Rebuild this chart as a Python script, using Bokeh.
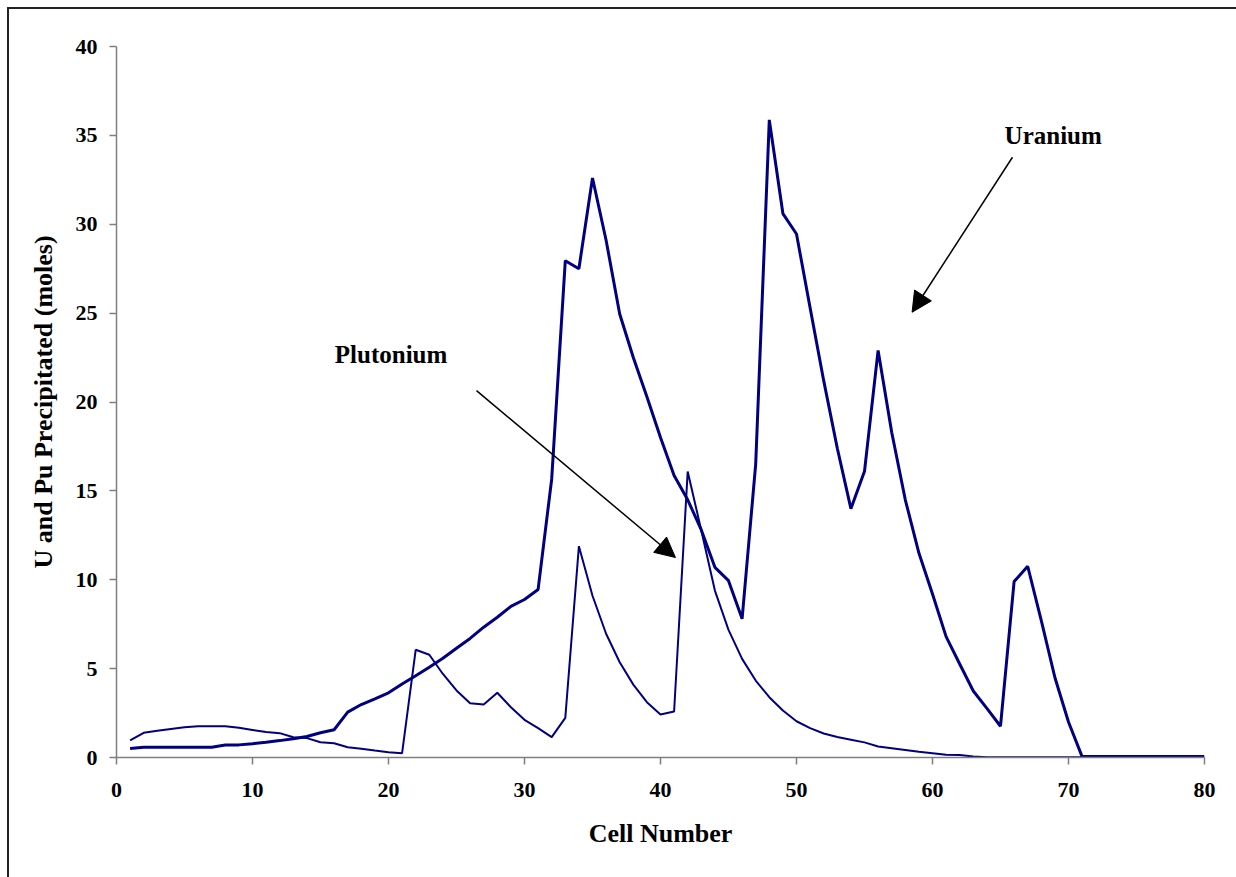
from bokeh.plotting import figure
from bokeh.models import Range1d, FixedTicker, Label, Arrow, NormalHead
from bokeh.embed import file_html
from bokeh.resources import INLINE

cells = list(range(1, 81))

uranium = [0.50, 0.58, 0.58, 0.58, 0.58, 0.58, 0.58, 0.70, 0.71, 0.78,
           0.86, 0.95, 1.05, 1.18, 1.39, 1.56, 2.55, 2.98, 3.30, 3.64,
           4.14, 4.60, 5.08, 5.58, 6.15, 6.70, 7.33, 7.89, 8.50, 8.89,
           9.45, 15.67, 27.95, 27.50, 32.6, 29.1, 24.95, 22.5, 20.3, 18.0,
           15.86, 14.5, 12.8, 10.7, 9.95, 7.8, 16.5, 35.87, 30.6, 29.45,
           25.3, 21.2, 17.4, 14.0, 16.1, 22.9, 18.3, 14.5, 11.5, 9.2,
           6.8, 5.26, 3.74, 2.76, 1.76, 9.9, 10.76, 7.7, 4.5, 2.0,
           0.05, 0.05, 0.05, 0.05, 0.05, 0.05, 0.05, 0.05, 0.05, 0.05]

plutonium = [0.96, 1.39, 1.50, 1.60, 1.70, 1.76, 1.76, 1.76, 1.67, 1.55,
             1.43, 1.37, 1.14, 1.09, 0.86, 0.80, 0.58, 0.49, 0.39, 0.30,
             0.24, 6.06, 5.78, 4.70, 3.77, 3.05, 2.98, 3.64, 2.83, 2.12,
             1.65, 1.15, 2.23, 11.89, 9.1, 6.96, 5.36, 4.1, 3.11, 2.42,
             2.59, 16.09, 12.77, 9.39, 7.18, 5.55, 4.33, 3.39, 2.64, 2.04,
             1.65, 1.35, 1.15, 1.0, 0.85, 0.62, 0.52, 0.42, 0.32, 0.24,
             0.15, 0.14, 0.05, 0.02, 0.02, 0.02, 0.02, 0.02, 0.02, 0.02,
             0.02, 0.02, 0.02, 0.02, 0.02, 0.02, 0.02, 0.02, 0.02, 0.02]

x_ticks = [0, 10, 20, 30, 40, 50, 60, 70, 80]
y_ticks = [0, 5, 10, 15, 20, 25, 30, 35, 40]

x_title = "Cell Number"
y_title = "U and Pu Precipitated (moles)"

# annotation texts and arrow endpoints (data coordinates)
pu_label = ("Plutonium", 16.05, 22.65)
u_label = ("Uranium", 65.3, 34.97)
pu_arrow = (26.47, 20.64, 41.1, 11.25)
u_arrow = (65.88, 33.77, 58.5, 25.05)

FONT = "Liberation Serif"
NAVY = "#000080"
AXIS = "#7f7f7f"

p = figure(width=1229, height=870, output_backend="svg", toolbar_location=None,
           x_range=Range1d(0, 80), y_range=Range1d(0, 40),
           min_border_left=107, min_border_right=34,
           min_border_top=37, min_border_bottom=122)
p.margin = (7, 0, 0, 7)
p.styles = {"border-left": "2px solid #222222", "border-top": "2px solid #222222"}

p.outline_line_color = None
p.xgrid.grid_line_color = None
p.ygrid.grid_line_color = None
p.background_fill_color = "white"
p.border_fill_color = "white"

p.line(cells, uranium, line_color=NAVY, line_width=3)
p.line(cells, plutonium, line_color=NAVY, line_width=2)

for ax in (p.xaxis[0], p.yaxis[0]):
    ax.axis_line_color = AXIS
    ax.axis_line_width = 1.5
    ax.major_tick_line_color = AXIS
    ax.major_tick_line_width = 1.5
    ax.major_tick_in = 0
    ax.major_tick_out = 7
    ax.minor_tick_line_color = None
    ax.major_label_text_font = FONT
    ax.major_label_text_font_style = "bold"
    ax.major_label_text_font_size = "22px"
    ax.major_label_text_color = "black"
    ax.axis_label_text_font = FONT
    ax.axis_label_text_font_style = "bold"
    ax.axis_label_text_font_size = "26px"
    ax.axis_label_text_color = "black"

p.xaxis[0].ticker = FixedTicker(ticks=x_ticks)
p.yaxis[0].ticker = FixedTicker(ticks=y_ticks)
p.xaxis[0].axis_label = x_title
p.yaxis[0].axis_label = y_title
p.xaxis[0].major_label_standoff = 18
p.yaxis[0].major_label_standoff = 12
p.xaxis[0].axis_label_standoff = 19
p.yaxis[0].axis_label_standoff = 15

for txt, lx, ly in (pu_label, u_label):
    p.add_layout(Label(x=lx, y=ly, text=txt, text_font=FONT, text_font_style="bold",
                       text_font_size="25px", text_color="black",
                       text_baseline="alphabetic", text_align="left"))

for (x0, y0, x1, y1) in (pu_arrow, u_arrow):
    p.add_layout(Arrow(x_start=x0, y_start=y0, x_end=x1, y_end=y1,
                       line_color="black", line_width=1.5,
                       end=NormalHead(size=20, fill_color="black", line_color="black")))

open("out.html", "w").write(file_html(p, INLINE))
